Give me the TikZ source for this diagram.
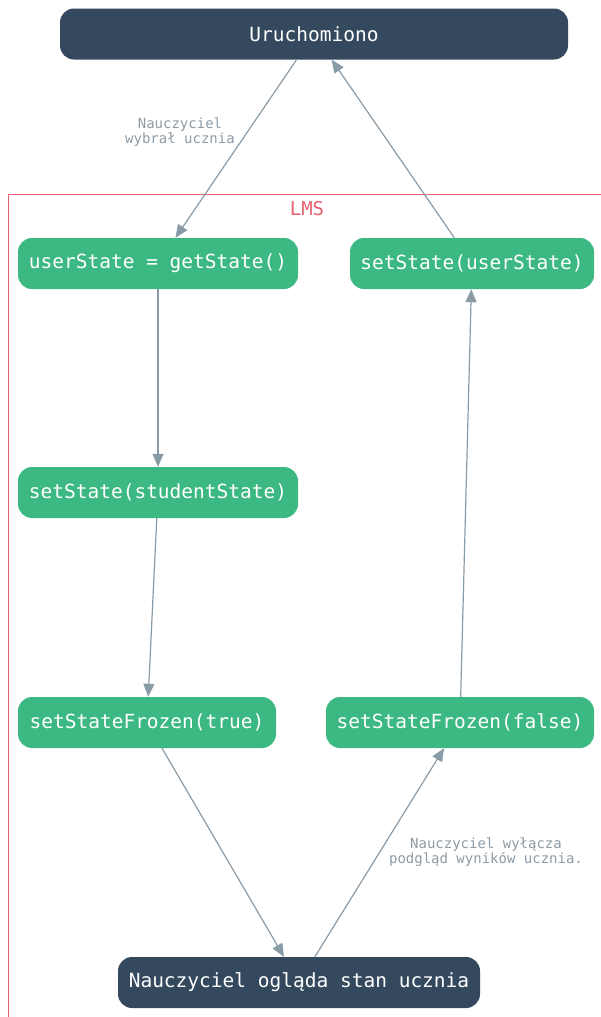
\documentclass[tikz,border=0pt]{standalone}
\usepackage{fontspec}
\setmonofont{DejaVu Sans Mono}
\usetikzlibrary{arrows.meta}
\definecolor{navy}{HTML}{34495E}
\definecolor{mint}{HTML}{3CB982}
\definecolor{wire}{HTML}{8A9BA8}
\definecolor{wiretext}{HTML}{8D9BA6}
\definecolor{lmsred}{HTML}{E5616E}
\tikzset{
  box/.style={rounded corners=14pt, minimum height=51pt, inner sep=0pt,
    text=white, font=\ttfamily\fontsize{19.5}{22}\selectfont},
  endbox/.style={box, fill=navy},
  fnbox/.style={box, fill=mint},
  flow/.style={draw=wire, line width=1.2pt, -{Triangle[length=13pt,width=11pt]}},
  flowlabel/.style={text=wiretext, align=center, inner sep=0pt,
    font=\ttfamily\fontsize{14}{15.5}\selectfont},
}
\begin{document}
\begin{tikzpicture}[x=1pt,y=-1pt]
\useasboundingbox (0,0) rectangle (600,1017);

% LMS cluster frame (open to the right and bottom)
\draw[lmsred, line width=1pt] (8,1030) -- (8,194) -- (610,194);
\node[text=lmsred, font=\ttfamily\fontsize{19}{22}\selectfont] (lms) at (307,209) {LMS};

% states
\node[endbox, minimum width=508pt] (start) at (314,34) {Uruchomiono};
\node[fnbox, minimum width=280pt] (get) at (158,263.5) {userState = getState()};
\node[fnbox, minimum width=244pt] (restore) at (472,263.5) {setState(userState)};
\node[fnbox, minimum width=280pt] (student) at (158,492.5) {setState(studentState)};
\node[fnbox, minimum width=258pt] (freeze) at (147,722.5) {setStateFrozen(true)};
\node[fnbox, minimum width=268pt] (unfreeze) at (460,722.5) {setStateFrozen(false)};
\node[endbox, minimum width=362pt] (view) at (299,982.5) {Nauczyciel ogląda stan ucznia};

% transitions
\draw[flow] (start) -- (get);
\draw[flow] (get) -- (student);
\draw[flow] (student) -- (freeze);
\draw[flow] (freeze) -- (view);
\draw[flow] (view) -- (unfreeze);
\draw[flow] (unfreeze) -- (restore);
\draw[flow] (restore) -- (start);

% transition labels
\node[flowlabel] (pick) at (180,132) {Nauczyciel\\wybrał ucznia};
\node[flowlabel] (close) at (486,852) {Nauczyciel wyłącza\\podgląd wyników ucznia.};
\end{tikzpicture}
\end{document}
